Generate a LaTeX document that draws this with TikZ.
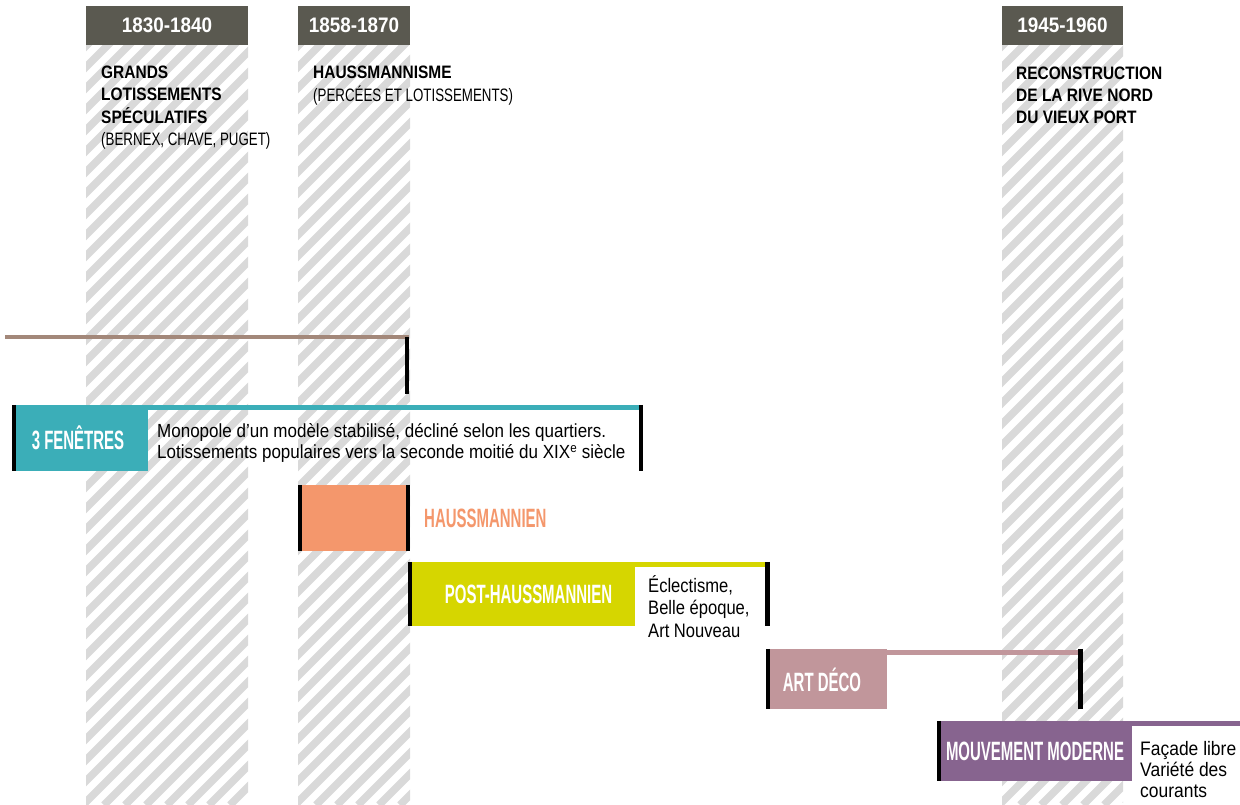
\documentclass[tikz,border=0pt]{standalone}
\usepackage{fontspec}
\setmainfont{Liberation Sans}
\newfontfamily\yearfont[FakeStretch=0.9]{Liberation Sans}
\newfontfamily\lblfont[FakeStretch=0.565]{Liberation Sans}
\newfontfamily\ttlfont[FakeStretch=0.86]{Liberation Sans}
\newfontfamily\subfont[FakeStretch=0.74]{Liberation Sans}
\newfontfamily\txtfont[FakeStretch=0.895]{Liberation Sans}
\newfontfamily\txtnarrow[FakeStretch=0.85]{Liberation Sans}
\definecolor{hdrgray}{HTML}{5A5950}
\definecolor{stripegray}{HTML}{D9D9D9}
\definecolor{brownline}{HTML}{A3887A}
\definecolor{tealc}{HTML}{3BAEB8}
\definecolor{orangec}{HTML}{F4976C}
\definecolor{yellowc}{HTML}{D6D600}
\definecolor{pinkc}{HTML}{C1969B}
\definecolor{purplec}{HTML}{87648F}
\begin{document}
\begin{tikzpicture}[x=1pt,y=-1pt,
  hdr/.style={fill=hdrgray, text=white, inner sep=0pt, minimum height=39pt,
    font=\yearfont\bfseries\fontsize{21}{21}\selectfont},
  stripe/.style={draw=stripegray, line width=7.5pt},
  blk/.style={draw=black, line width=4.5pt},
  box/.style={inner sep=0pt},
  lbl/.style={inner sep=0pt, text=white, font=\lblfont\bfseries\fontsize{26.5}{26.5}\selectfont},
  ttl/.style={anchor=base west, inner sep=0pt, font=\ttlfont\bfseries\fontsize{18}{22}\selectfont},
  txt/.style={anchor=base west, inner sep=0pt, font=\txtfont\fontsize{19}{21.5}\selectfont}
]
\useasboundingbox (0,0) rectangle (1240,805);
% hatched columns
\foreach \xa/\xb in {86/248, 298/410, 1002/1123}{
  \begin{scope}
    \clip (\xa,45) rectangle (\xb,805);
    \foreach \k in {0,...,46} \draw[stripe] ({\xa-780+21*\k},805) -- ++(800,-800);
  \end{scope}
}
% headers
\node[hdr, minimum width=162pt] (h1) at (167,25.5) {1830-1840};
\node[hdr, minimum width=112pt] (h2) at (354,25.5) {1858-1870};
\node[hdr, minimum width=121pt] (h3) at (1062.5,25.5) {1945-1960};
% column titles
\node[ttl] (c1) at (101,79) {\begin{tabular}[t]{@{}l@{}}GRANDS\\LOTISSEMENTS\\SPÉCULATIFS\\{\subfont\mdseries (BERNEX, CHAVE, PUGET)}\end{tabular}};
\node[ttl] (c2) at (313,79) {\begin{tabular}[t]{@{}l@{}}HAUSSMANNISME\\{\subfont\mdseries (PERCÉES ET LOTISSEMENTS)}\end{tabular}};
\node[ttl] (c3) at (1016,80) {\begin{tabular}[t]{@{}l@{}}RECONSTRUCTION\\DE LA RIVE NORD\\DU VIEUX PORT\end{tabular}};
% brown line
\coordinate (bstart) at (5,337);
\coordinate (bend) at (409,337);
\coordinate (btick) at (407,394);
\draw[brownline, line width=3.5pt] (bstart) -- (bend);
\draw[blk] (bend -| btick) -- (btick);
% 3 fenetres
\node[box, fill=tealc, minimum width=136pt, minimum height=66pt] (f3) at (80,438) {};
\coordinate (f3end) at (643,407.5);
\coordinate (f3tick) at (641,471);
\draw[tealc, line width=5pt] (f3.east |- f3end) -- (f3end);
\draw[blk] (f3tick |- f3.north) -- (f3tick);
\draw[blk] ([xshift=2.25pt]f3.north west) -- ([xshift=2.25pt]f3.south west);
\node[lbl] (f3l) at (78,438) {3 FENÊTRES};
\node[txt] (f3t) at (157,437) {\begin{tabular}[t]{@{}l@{}}Monopole d’un modèle stabilisé, décliné selon les quartiers.\\Lotissements populaires vers la seconde moitié du XIX\textsuperscript{\fontsize{13}{13}\selectfont e} siècle\end{tabular}};
% haussmannien
\node[box, fill=orangec, minimum width=112pt, minimum height=66pt] (hs) at (354,518) {};
\draw[blk] ([xshift=2.25pt]hs.north west) -- ([xshift=2.25pt]hs.south west);
\draw[blk] ([xshift=-2.25pt]hs.north east) -- ([xshift=-2.25pt]hs.south east);
\node[lbl, text=orangec, anchor=west] (hsl) at (424,518) {HAUSSMANNIEN};
% post-haussmannien
\node[box, fill=yellowc, minimum width=227pt, minimum height=64pt] (ph) at (521.5,594) {};
\coordinate (phend) at (770,564.5);
\coordinate (phtick) at (767.5,626);
\draw[yellowc, line width=5pt] (ph.east |- phend) -- (phend);
\draw[blk] (phtick |- ph.north) -- (phtick);
\draw[blk] ([xshift=2.25pt]ph.north west) -- ([xshift=2.25pt]ph.south west);
\node[lbl] (phl) at (528.5,594) {POST-HAUSSMANNIEN};
\node[txt, font=\txtnarrow\fontsize{19.5}{22.5}\selectfont] (pht) at (648,592) {\begin{tabular}[t]{@{}l@{}}Éclectisme,\\Belle époque,\\Art Nouveau\end{tabular}};
% art deco
\node[box, fill=pinkc, minimum width=121pt, minimum height=60pt] (ad) at (826.5,679) {};
\coordinate (adend) at (1083,652.5);
\coordinate (adtick) at (1080.5,709);
\draw[pinkc, line width=4.5pt] (ad.east |- adend) -- (adend);
\draw[blk] (adtick |- ad.north) -- (adtick);
\draw[blk] ([xshift=2.25pt]ad.north west) -- ([xshift=2.25pt]ad.south west);
\node[lbl] (adl) at (822,680) {ART DÉCO};
% mouvement moderne
\node[box, fill=purplec, minimum width=195pt, minimum height=60pt] (mm) at (1034.5,751) {};
\coordinate (mmend) at (1240,723.5);
\draw[purplec, line width=5pt] (mm.east |- mmend) -- (mmend);
\draw[blk] ([xshift=2.25pt]mm.north west) -- ([xshift=2.25pt]mm.south west);
\node[lbl] (mml) at (1035,751) {MOUVEMENT MODERNE};
\node[txt, font=\txtfont\fontsize{19.5}{21}\selectfont] (mmt) at (1140,755) {\begin{tabular}[t]{@{}l@{}}Façade libre\\Variété des\\courants\end{tabular}};
\end{tikzpicture}
\end{document}
